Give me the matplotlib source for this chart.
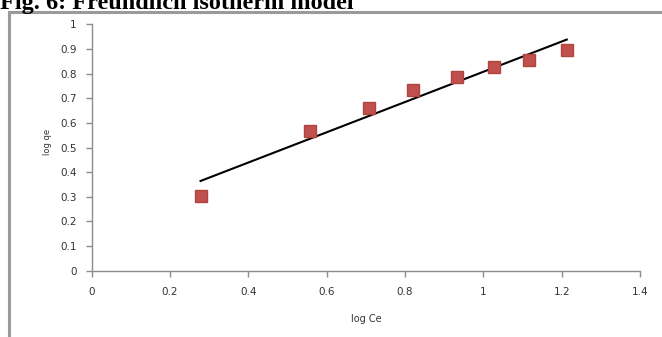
import numpy as np
import matplotlib
matplotlib.use("Agg")
import matplotlib.pyplot as plt
from matplotlib.patches import Rectangle

# Freundlich isotherm data
log_ce = [0.278, 0.557, 0.707, 0.820, 0.934, 1.026, 1.117, 1.213]
log_qe = [0.304, 0.567, 0.662, 0.732, 0.787, 0.828, 0.855, 0.896]
x_ticks = [0, 0.2, 0.4, 0.6, 0.8, 1, 1.2, 1.4]
y_ticks = [0, 0.1, 0.2, 0.3, 0.4, 0.5, 0.6, 0.7, 0.8, 0.9, 1]

W, H = 662, 337
fig = plt.figure(figsize=(W / 100, H / 100), dpi=100)
fig.patch.set_facecolor("white")

# outer frame (only top and left edges are inside the picture)
fig.patches.append(Rectangle((8.5 / W, -0.1), 1.2, (H - 12 + 0.1 * H) / H,
                             transform=fig.transFigure, fill=False,
                             edgecolor="#9a9a9a", linewidth=2.2))

# title, partly cut at the top edge as in the source
fig.text(0.0, 1 - 9 / H, "Fig. 6: Freundlich isotherm model",
         family="Liberation Serif", weight="bold", fontsize=17.5,
         va="baseline", ha="left", color="black")

ax = fig.add_axes([91.7 / W, 66.3 / H, (640 - 91.7) / W, (270.7 - 24.3) / H])

# linear trendline
slope, icpt = np.polyfit(log_ce, log_qe, 1)
xs = np.array([min(log_ce), max(log_ce)])
ax.plot(xs, slope * xs + icpt, color="black", lw=1.5, zorder=2)

ax.plot(log_ce, log_qe, "s", color="#c0504d", ms=9, mec="#b04540", zorder=3)

ax.set_xlim(0, 1.4)
ax.set_ylim(0, 1)
ax.set_xticks(x_ticks)
ax.set_xticklabels([f"{t:g}" for t in x_ticks])
ax.set_yticks(y_ticks)
ax.set_yticklabels([f"{t:g}" for t in y_ticks])

for s in ["top", "right"]:
    ax.spines[s].set_visible(False)
for s in ["left", "bottom"]:
    ax.spines[s].set_color("#8c8c8c")
    ax.spines[s].set_linewidth(1.0)
ax.tick_params(axis="both", direction="out", length=4, width=1, color="#8c8c8c",
               labelsize=7.5, labelcolor="#333333", pad=5)
ax.tick_params(axis="x", pad=8)
ax.tick_params(axis="y", pad=7)

ax.set_xlabel("log Ce", fontsize=7, color="#333333", labelpad=12)
fig.text(47 / W, 1 - 142 / H, "log qe", rotation=90, fontsize=6,
         color="#333333", ha="center", va="center")

fig.savefig("out.png", dpi=100)
